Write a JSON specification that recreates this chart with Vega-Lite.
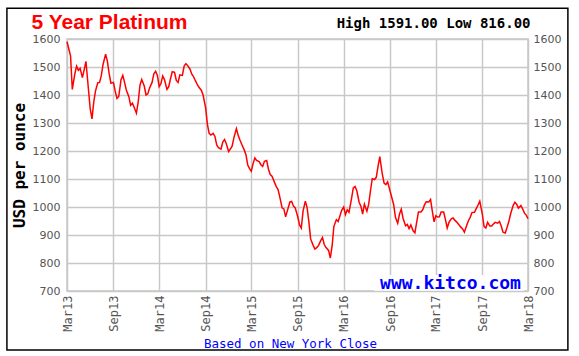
{
  "$schema": "https://vega.github.io/schema/vega-lite/v6.json",
  "width": 461,
  "height": 252,
  "autosize": {"type": "none"},
  "padding": {"left": 67, "top": 39, "right": 51, "bottom": 65},
  "background": "white",
  "config": {"view": {"stroke": "#c8c8c8", "strokeWidth": 1.5}},
  "data": {"values": [
    {"d":"2013-03-01","v":1590},{"d":"2013-03-08","v":1565},{"d":"2013-03-15","v":1540},{"d":"2013-03-22","v":1420},
    {"d":"2013-04-01","v":1475},{"d":"2013-04-08","v":1503},{"d":"2013-04-15","v":1488},{"d":"2013-04-22","v":1495},
    {"d":"2013-05-01","v":1462},{"d":"2013-05-08","v":1490},{"d":"2013-05-15","v":1520},{"d":"2013-05-22","v":1450},
    {"d":"2013-06-01","v":1350},{"d":"2013-06-08","v":1315},{"d":"2013-06-15","v":1375},{"d":"2013-06-22","v":1415},
    {"d":"2013-07-01","v":1444},{"d":"2013-07-08","v":1445},{"d":"2013-07-15","v":1470},{"d":"2013-07-22","v":1510},
    {"d":"2013-08-01","v":1546},{"d":"2013-08-08","v":1520},{"d":"2013-08-15","v":1476},{"d":"2013-08-22","v":1442},
    {"d":"2013-09-01","v":1445},{"d":"2013-09-08","v":1413},{"d":"2013-09-15","v":1388},{"d":"2013-09-22","v":1395},
    {"d":"2013-10-01","v":1455},{"d":"2013-10-08","v":1470},{"d":"2013-10-15","v":1445},{"d":"2013-10-22","v":1418},
    {"d":"2013-11-01","v":1394},{"d":"2013-11-08","v":1363},{"d":"2013-11-15","v":1371},{"d":"2013-11-22","v":1356},
    {"d":"2013-12-01","v":1335},{"d":"2013-12-08","v":1375},{"d":"2013-12-15","v":1435},{"d":"2013-12-22","v":1455},
    {"d":"2014-01-01","v":1432},{"d":"2014-01-08","v":1400},{"d":"2014-01-15","v":1404},{"d":"2014-01-22","v":1425},
    {"d":"2014-02-01","v":1445},{"d":"2014-02-08","v":1476},{"d":"2014-02-15","v":1485},{"d":"2014-02-22","v":1470},
    {"d":"2014-03-01","v":1430},{"d":"2014-03-08","v":1440},{"d":"2014-03-15","v":1468},{"d":"2014-03-22","v":1455},
    {"d":"2014-04-01","v":1420},{"d":"2014-04-08","v":1430},{"d":"2014-04-15","v":1458},{"d":"2014-04-22","v":1483},
    {"d":"2014-05-01","v":1481},{"d":"2014-05-08","v":1452},{"d":"2014-05-15","v":1445},{"d":"2014-05-22","v":1472},
    {"d":"2014-06-01","v":1470},{"d":"2014-06-08","v":1503},{"d":"2014-06-15","v":1512},{"d":"2014-06-22","v":1505},
    {"d":"2014-07-01","v":1493},{"d":"2014-07-08","v":1475},{"d":"2014-07-15","v":1466},{"d":"2014-07-22","v":1452},
    {"d":"2014-08-01","v":1434},{"d":"2014-08-08","v":1425},{"d":"2014-08-15","v":1417},{"d":"2014-08-22","v":1400},
    {"d":"2014-09-01","v":1355},{"d":"2014-09-08","v":1296},{"d":"2014-09-15","v":1263},{"d":"2014-09-22","v":1257},
    {"d":"2014-10-01","v":1263},{"d":"2014-10-08","v":1252},{"d":"2014-10-15","v":1222},{"d":"2014-10-22","v":1212},
    {"d":"2014-11-01","v":1207},{"d":"2014-11-08","v":1232},{"d":"2014-11-15","v":1241},{"d":"2014-11-22","v":1226},
    {"d":"2014-12-01","v":1198},{"d":"2014-12-08","v":1207},{"d":"2014-12-15","v":1217},{"d":"2014-12-22","v":1247},
    {"d":"2015-01-01","v":1280},{"d":"2015-01-08","v":1256},{"d":"2015-01-15","v":1239},{"d":"2015-01-22","v":1224},
    {"d":"2015-02-01","v":1204},{"d":"2015-02-08","v":1186},{"d":"2015-02-15","v":1150},{"d":"2015-02-22","v":1137},
    {"d":"2015-03-01","v":1128},{"d":"2015-03-08","v":1155},{"d":"2015-03-15","v":1175},{"d":"2015-03-22","v":1166},
    {"d":"2015-04-01","v":1162},{"d":"2015-04-08","v":1151},{"d":"2015-04-15","v":1145},{"d":"2015-04-22","v":1163},
    {"d":"2015-05-01","v":1166},{"d":"2015-05-08","v":1135},{"d":"2015-05-15","v":1116},{"d":"2015-05-22","v":1110},
    {"d":"2015-06-01","v":1088},{"d":"2015-06-08","v":1073},{"d":"2015-06-15","v":1062},{"d":"2015-06-22","v":1035},
    {"d":"2015-07-01","v":997},{"d":"2015-07-08","v":993},{"d":"2015-07-15","v":965},{"d":"2015-07-22","v":987},
    {"d":"2015-08-01","v":1018},{"d":"2015-08-08","v":1020},{"d":"2015-08-15","v":1003},{"d":"2015-08-22","v":997},
    {"d":"2015-09-01","v":965},{"d":"2015-09-08","v":936},{"d":"2015-09-15","v":925},{"d":"2015-09-22","v":985},
    {"d":"2015-10-01","v":1021},{"d":"2015-10-08","v":998},{"d":"2015-10-15","v":948},{"d":"2015-10-22","v":886},
    {"d":"2015-11-01","v":863},{"d":"2015-11-08","v":850},{"d":"2015-11-15","v":855},{"d":"2015-11-22","v":862},
    {"d":"2015-12-01","v":880},{"d":"2015-12-08","v":891},{"d":"2015-12-15","v":866},{"d":"2015-12-22","v":855},
    {"d":"2016-01-01","v":845},{"d":"2016-01-08","v":818},{"d":"2016-01-15","v":860},{"d":"2016-01-22","v":930},
    {"d":"2016-02-01","v":955},{"d":"2016-02-08","v":948},{"d":"2016-02-15","v":968},{"d":"2016-02-22","v":988},
    {"d":"2016-03-01","v":1000},{"d":"2016-03-08","v":973},{"d":"2016-03-15","v":990},{"d":"2016-03-22","v":981},
    {"d":"2016-04-01","v":1030},{"d":"2016-04-08","v":1068},{"d":"2016-04-15","v":1073},{"d":"2016-04-22","v":1058},
    {"d":"2016-05-01","v":1017},{"d":"2016-05-08","v":1003},{"d":"2016-05-15","v":975},{"d":"2016-05-22","v":1010},
    {"d":"2016-06-01","v":985},{"d":"2016-06-08","v":1010},{"d":"2016-06-15","v":1058},{"d":"2016-06-22","v":1101},
    {"d":"2016-07-01","v":1098},{"d":"2016-07-08","v":1106},{"d":"2016-07-15","v":1145},{"d":"2016-07-22","v":1180},
    {"d":"2016-08-01","v":1117},{"d":"2016-08-08","v":1085},{"d":"2016-08-15","v":1080},{"d":"2016-08-22","v":1090},
    {"d":"2016-09-01","v":1056},{"d":"2016-09-08","v":1032},{"d":"2016-09-15","v":1008},{"d":"2016-09-22","v":963},
    {"d":"2016-10-01","v":942},{"d":"2016-10-08","v":975},{"d":"2016-10-15","v":992},{"d":"2016-10-22","v":960},
    {"d":"2016-11-01","v":933},{"d":"2016-11-08","v":938},{"d":"2016-11-15","v":923},{"d":"2016-11-22","v":936},
    {"d":"2016-12-01","v":915},{"d":"2016-12-08","v":908},{"d":"2016-12-15","v":945},{"d":"2016-12-22","v":982},
    {"d":"2017-01-01","v":982},{"d":"2017-01-08","v":990},{"d":"2017-01-15","v":1008},{"d":"2017-01-22","v":1019},
    {"d":"2017-02-01","v":1018},{"d":"2017-02-08","v":1027},{"d":"2017-02-15","v":985},{"d":"2017-02-22","v":947},
    {"d":"2017-03-01","v":969},{"d":"2017-03-08","v":964},{"d":"2017-03-15","v":965},{"d":"2017-03-22","v":982},
    {"d":"2017-04-01","v":982},{"d":"2017-04-08","v":955},{"d":"2017-04-15","v":925},{"d":"2017-04-22","v":945},
    {"d":"2017-05-01","v":958},{"d":"2017-05-08","v":961},{"d":"2017-05-15","v":953},{"d":"2017-05-22","v":947},
    {"d":"2017-06-01","v":936},{"d":"2017-06-08","v":928},{"d":"2017-06-15","v":922},{"d":"2017-06-22","v":910},
    {"d":"2017-07-01","v":934},{"d":"2017-07-08","v":951},{"d":"2017-07-15","v":963},{"d":"2017-07-22","v":980},
    {"d":"2017-08-01","v":981},{"d":"2017-08-08","v":994},{"d":"2017-08-15","v":1007},{"d":"2017-08-22","v":1021},
    {"d":"2017-09-01","v":975},{"d":"2017-09-08","v":930},{"d":"2017-09-15","v":925},{"d":"2017-09-22","v":945},
    {"d":"2017-10-01","v":932},{"d":"2017-10-08","v":932},{"d":"2017-10-15","v":939},{"d":"2017-10-22","v":945},
    {"d":"2017-11-01","v":942},{"d":"2017-11-08","v":948},{"d":"2017-11-15","v":932},{"d":"2017-11-22","v":910},
    {"d":"2017-12-01","v":907},{"d":"2017-12-08","v":927},{"d":"2017-12-15","v":948},{"d":"2017-12-22","v":975},
    {"d":"2018-01-01","v":1005},{"d":"2018-01-08","v":1017},{"d":"2018-01-15","v":1010},{"d":"2018-01-22","v":996},
    {"d":"2018-02-01","v":1005},{"d":"2018-02-08","v":993},{"d":"2018-02-15","v":978},{"d":"2018-02-22","v":971},
    {"d":"2018-03-01","v":958}
  ]},
  "layer": [
    {
      "data": {"values": [{}]},
      "mark": {"type": "rect", "filled": false, "stroke": "black", "strokeWidth": 1.5, "clip": false},
      "encoding": {
        "x": {"datum": {"year": 2012, "month": "Jul", "date": 6, "utc": true}, "type": "temporal",
          "axis": {"orient": "top", "labels": false, "ticks": false, "domain": false, "grid": false,
            "title": "5 Year Platinum", "titleX": -36, "titleY": -11, "titleAlign": "left", "titleAnchor": null,
            "titleBaseline": "alphabetic", "titleFont": "Liberation Sans", "titleFontSize": 21,
            "titleFontWeight": "bold", "titleColor": "#ff0000"}},
        "x2": {"datum": {"year": 2018, "month": "Aug", "date": 6, "utc": true}},
        "y": {"datum": 1710, "type": "quantitative", "axis": null},
        "y2": {"datum": 489}
      }
    },
    {
      "mark": {"type": "line", "color": "#ff0000", "strokeWidth": 1.5},
      "encoding": {
        "x": {
          "field": "d", "type": "temporal",
          "scale": {"type": "utc", "domain": [{"year": 2013, "month": "Mar", "date": 1, "utc": true}, {"year": 2018, "month": "Mar", "date": 1, "utc": true}]},
          "axis": {
            "orient": "bottom",
            "values": [
              {"year": 2013, "month": "Mar", "date": 1, "utc": true}, {"year": 2013, "month": "Sep", "date": 1, "utc": true},
              {"year": 2014, "month": "Mar", "date": 1, "utc": true}, {"year": 2014, "month": "Sep", "date": 1, "utc": true},
              {"year": 2015, "month": "Mar", "date": 1, "utc": true}, {"year": 2015, "month": "Sep", "date": 1, "utc": true},
              {"year": 2016, "month": "Mar", "date": 1, "utc": true}, {"year": 2016, "month": "Sep", "date": 1, "utc": true},
              {"year": 2017, "month": "Mar", "date": 1, "utc": true}, {"year": 2017, "month": "Sep", "date": 1, "utc": true},
              {"year": 2018, "month": "Mar", "date": 1, "utc": true}
            ],
            "labelExpr": "utcFormat(datum.value, '%b%y')",
            "labelAngle": 270, "labelAlign": "right", "labelBaseline": "middle",
            "labelFont": "DejaVu Sans Mono", "labelFontSize": 12, "labelColor": "#555555",
            "labelPadding": 4, "labelOverlap": false, "labelFlush": false,
            "ticks": false, "domain": false,
            "grid": true, "gridColor": "#c8c8c8", "gridWidth": 1.5,
            "title": "Based on New York Close", "titleFont": "DejaVu Sans Mono", "titleFontSize": 12.5,
            "titleFontWeight": "normal", "titleColor": "#0000ff", "titlePadding": 6,
            "titleX": 223, "titleAlign": "center", "titleAnchor": null
          }
        },
        "y": {
          "field": "v", "type": "quantitative",
          "scale": {"domain": [700, 1600], "nice": false, "zero": false},
          "axis": {
            "orient": "left",
            "values": [700, 800, 900, 1000, 1100, 1200, 1300, 1400, 1500, 1600],
            "format": "d",
            "labelFont": "DejaVu Sans", "labelFontSize": 11, "labelColor": "#555555", "labelPadding": 7,
            "ticks": false, "domain": false,
            "grid": true, "gridColor": "#c8c8c8", "gridWidth": 1.5,
            "title": "USD per ounce", "titleFont": "DejaVu Sans Mono", "titleFontSize": 16,
            "titleFontWeight": "bold", "titleColor": "black", "titlePadding": 5
          }
        }
      }
    },
    {
      "data": {"values": [{}]},
      "mark": {"type": "rect", "fill": "white"},
      "encoding": {
        "x": {"datum": {"year": 2016, "month": "Jun", "date": 29, "utc": true}, "type": "temporal",
          "axis": {"orient": "top", "labels": false, "ticks": false, "domain": false, "grid": false,
            "title": "High 1591.00 Low 816.00", "titleX": 463, "titleY": -12, "titleAlign": "right", "titleAnchor": null,
            "titleBaseline": "alphabetic", "titleFont": "DejaVu Sans Mono",
            "titleFontSize": 14, "titleFontWeight": "bold", "titleColor": "black"}},
        "x2": {"datum": {"year": 2018, "month": "Feb", "date": 13, "utc": true}},
        "y": {"datum": 757, "type": "quantitative",
          "axis": {"orient": "right", "values": [700, 800, 900, 1000, 1100, 1200, 1300, 1400, 1500, 1600],
            "format": "d",
            "labelFont": "DejaVu Sans", "labelFontSize": 11, "labelColor": "#555555", "labelPadding": 5,
            "ticks": false, "domain": false, "grid": false, "title": null}},
        "y2": {"datum": 701}
      }
    },
    {
      "data": {"values": [{"t": "www.kitco.com"}]},
      "mark": {"type": "text", "align": "right", "baseline": "alphabetic", "font": "DejaVu Sans Mono", "fontSize": 18, "fontWeight": "bold", "color": "#0000ff"},
      "encoding": {
        "x": {"datum": {"year": 2018, "month": "Feb", "date": 1, "utc": true}, "type": "temporal", "axis": null},
        "y": {"datum": 707, "type": "quantitative", "axis": null},
        "text": {"field": "t"}
      }
    }
  ],
  "resolve": {"axis": {"x": "independent", "y": "independent"}}
}
